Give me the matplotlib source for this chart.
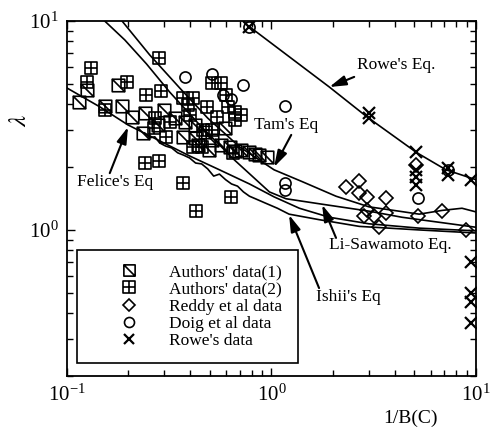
import matplotlib
matplotlib.use('Agg')
import matplotlib.pyplot as plt
from matplotlib.path import Path
from matplotlib.ticker import NullFormatter

plt.rcParams['font.family'] = 'Liberation Serif'
plt.rcParams['mathtext.fontset'] = 'stix'

# Authors' data (1) - square with diagonal
auth1_x = [0.114, 0.125, 0.153, 0.177, 0.186, 0.208, 0.240, 0.235, 0.278, 0.300,
           0.337, 0.376, 0.368, 0.421, 0.421, 0.471, 0.515, 0.498, 0.570, 0.590,
           0.624, 0.714, 0.781, 0.874, 0.956, 0.44, 0.66, 0.83]
auth1_y = [4.10, 4.68, 3.92, 4.94, 3.92, 3.47, 3.63, 2.91, 3.18, 3.75,
           3.43, 3.29, 2.79, 2.76, 3.18, 2.94, 2.70, 2.41, 2.55, 3.08,
           2.50, 2.41, 2.36, 2.28, 2.24, 2.55, 2.38, 2.30]

# Authors' data (2) - square with cross
auth2_x = [0.131, 0.125, 0.196, 0.281, 0.243, 0.287, 0.153, 0.269, 0.304, 0.266,
           0.368, 0.412, 0.389, 0.482, 0.398, 0.540, 0.660, 0.714, 0.660, 0.515,
           0.570, 0.610, 0.461, 0.515, 0.456, 0.412, 0.646, 0.240, 0.281, 0.368,
           0.426, 0.631, 0.603, 0.318]
auth2_y = [5.96, 5.11, 5.11, 6.65, 4.43, 4.63, 3.75, 3.43, 2.79, 3.08,
           4.28, 4.28, 3.96, 3.88, 3.55, 3.47, 3.67, 3.55, 3.36, 5.05,
           5.05, 3.88, 3.01, 3.01, 2.50, 2.50, 2.34, 2.09, 2.14, 1.68,
           1.23, 1.44, 4.43, 3.29]

reddy_x = [2.32, 2.69, 2.69, 2.94, 3.64, 2.94, 2.85, 3.18, 3.64, 3.36, 5.2, 6.83, 8.94, 5.1]
reddy_y = [1.61, 1.72, 1.50, 1.44, 1.42, 1.25, 1.17, 1.17, 1.21, 1.03, 1.17, 1.23, 1.00, 2.05]

doig_x = [0.376, 0.515, 0.729, 0.583, 0.631, 1.17, 1.17, 1.17, 5.2, 0.78, 7.3]
doig_y = [5.40, 5.58, 4.94, 4.43, 4.24, 3.92, 1.68, 1.55, 1.42, 9.4, 1.94]

rowe_x = [0.78, 3.0, 3.0, 5.1, 5.1, 5.1, 5.1, 7.3, 7.3, 9.5, 9.5, 9.5, 9.5, 9.5]
rowe_y = [9.4, 3.63, 3.43, 2.36, 1.94, 1.79, 1.64, 1.98, 1.83, 1.74, 0.70, 0.50, 0.45, 0.36]

# equations
rowe_eq_x = [0.78, 1.92, 2.94, 5.15, 7.14, 10.0]
rowe_eq_y = [9.4, 4.83, 3.47, 2.34, 1.94, 1.74]

tam_x = [0.186, 0.254, 0.356, 0.488, 0.698, 1.03, 1.42, 2.07, 3.0, 4.2, 5.28, 6.83, 8.55, 10.0]
tam_y = [10.0, 6.88, 4.78, 3.43, 2.50, 1.94, 1.70, 1.45, 1.29, 1.23, 1.19, 1.24, 1.27, 1.22]

li_x = [0.153, 0.192, 0.245, 0.318, 0.446, 0.660, 0.978, 1.18, 1.75, 3.0, 4.35, 10.0]
li_y = [10.0, 8.11, 6.23, 4.57, 3.18, 2.16, 1.52, 1.41, 1.33, 1.23, 1.15, 1.03]

felice_x = [0.1, 0.145, 0.199, 0.284, 0.398, 0.557, 0.781, 1.03, 1.37, 1.92, 3.0, 5.28, 10.0]
felice_y = [4.78, 3.88, 3.18, 2.67, 2.26, 1.94, 1.66, 1.44, 1.27, 1.15, 1.07, 1.02, 0.99]

ishii_x = [0.240, 0.254, 0.269, 0.284, 0.304, 0.325, 0.348, 0.372, 0.398, 0.426,
           0.456, 0.488, 0.522, 0.557, 0.597, 0.638, 0.683, 0.730, 0.781, 0.835,
           0.925, 1.07, 1.22, 1.71, 2.69, 5.28, 10.0]
ishii_y = [2.91, 2.76, 2.79, 2.61, 2.52, 2.47, 2.34, 2.28, 2.21, 2.09,
           2.07, 1.96, 1.81, 1.85, 1.74, 1.66, 1.62, 1.52, 1.45, 1.41,
           1.35, 1.27, 1.19, 1.12, 1.04, 1.00, 0.967]

M, L, C = Path.MOVETO, Path.LINETO, Path.CLOSEPOLY
sq_diag = Path([(-1, -1), (1, -1), (1, 1), (-1, 1), (-1, -1), (-1, 1), (1, -1)],
               [M, L, L, L, C, M, L])
sq_plus = Path([(-1, -1), (1, -1), (1, 1), (-1, 1), (-1, -1), (0, -1), (0, 1), (-1, 0), (1, 0)],
               [M, L, L, L, C, M, L, M, L])

fig = plt.figure(figsize=(4.92, 4.30), dpi=100)
ax = fig.add_axes([0.136, 0.1256, 0.8313, 0.8256])

for xs, ys in [(rowe_eq_x, rowe_eq_y), (tam_x, tam_y), (li_x, li_y),
               (felice_x, felice_y), (ishii_x, ishii_y)]:
    ax.plot(xs, ys, color='k', lw=1.2)

mk = dict(ls='none', mfc='none', mec='k', mew=1.2)
ax.plot(auth1_x, auth1_y, marker=sq_diag, ms=9, label="Authors' data(1)", **mk)
ax.plot(auth2_x, auth2_y, marker=sq_plus, ms=9, label="Authors' data(2)", **mk)
ax.plot(reddy_x, reddy_y, marker='D', ms=7, label='Reddy et al data', **mk)
ax.plot(doig_x, doig_y, marker='o', ms=8, label='Doig et al data', **mk)
ax.plot(rowe_x, rowe_y, marker='x', ms=8.5, label="Rowe's data", ls='none', color='k', mew=1.6)

ax.set_xscale('log')
ax.set_yscale('log')
ax.set_xlim(0.1, 10)
ax.set_ylim(0.2, 10)
ax.xaxis.set_minor_formatter(NullFormatter())
ax.yaxis.set_minor_formatter(NullFormatter())
ax.tick_params(which='both', direction='in', top=True, right=True, width=1)
ax.tick_params(which='major', length=6, labelsize=15, pad=6)
ax.tick_params(which='minor', length=4)
for s in ax.spines.values():
    s.set_linewidth(1.3)

ax.set_ylabel(r'$\lambda$', fontsize=18)
ax.yaxis.set_label_coords(-0.088, 0.72)
ax.set_xlabel('1/B(C)', fontsize=14)
ax.xaxis.set_label_coords(0.841, -0.096)

arw = dict(arrowstyle='-|>,head_length=1.0,head_width=0.3', color='k', lw=1.5,
           shrinkA=0, shrinkB=0)
fs = 12.5
ax.text(2.63, 6.16, "Rowe's Eq.", fontsize=fs, va='center')
ax.annotate('', xy=(1.92, 4.83), xytext=(2.54, 5.40), arrowprops=arw)
ax.text(0.826, 3.18, "Tam's Eq", fontsize=fs, va='center')
ax.annotate('', xy=(1.03, 2.0), xytext=(1.25, 2.85), arrowprops=arw)
ax.text(0.112, 1.70, "Felice's Eq", fontsize=fs, va='center')
ax.annotate('', xy=(0.199, 3.11), xytext=(0.162, 1.87), arrowprops=arw)
ax.text(1.92, 0.848, 'Li-Sawamoto Eq.', fontsize=fs, va='center')
ax.annotate('', xy=(1.77, 1.32), xytext=(2.07, 0.916), arrowprops=arw)
ax.text(1.66, 0.478, "Ishii's Eq", fontsize=fs, va='center')
ax.annotate('', xy=(1.22, 1.18), xytext=(1.71, 0.527), arrowprops=arw)

leg = ax.legend(loc='upper left', bbox_to_anchor=(0.0245, 0.045, 0.5404, 0.31),
                mode='expand', borderaxespad=0, fancybox=False, edgecolor='k',
                framealpha=1, handlelength=4.4, handletextpad=0.1, labelspacing=0.07,
                borderpad=0.8, fontsize=12.5, markerscale=0.9)
leg.get_frame().set_linewidth(1.2)

fig.savefig('out.png', dpi=100)
